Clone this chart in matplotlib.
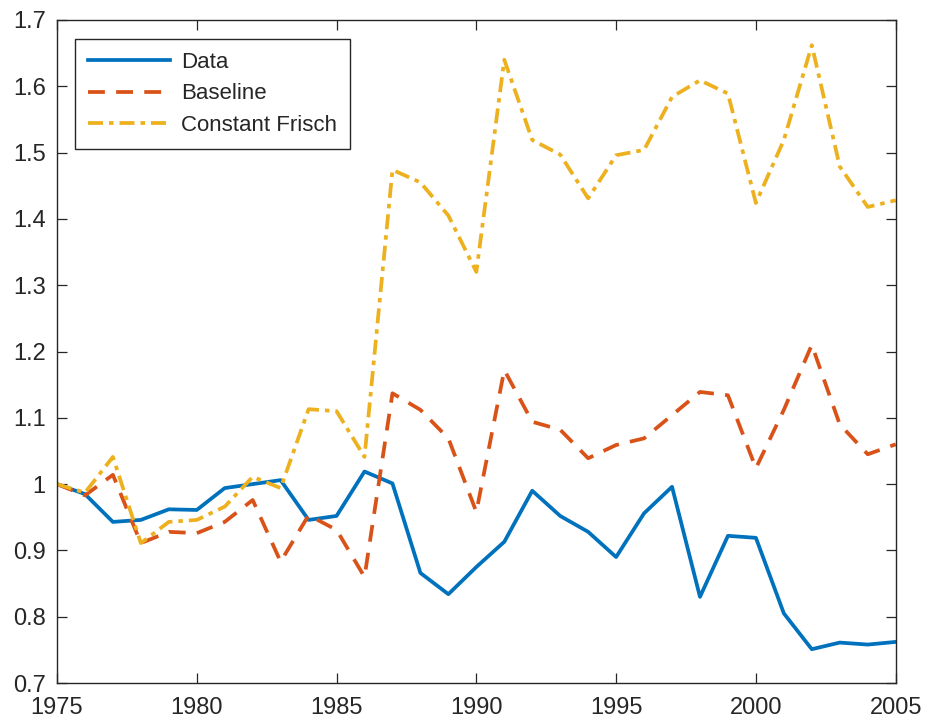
#!/usr/bin/env python3
"""Data vs. model: Baseline and Constant Frisch (MATLAB-style line chart)"""

import numpy as np
import matplotlib

matplotlib.use("Agg")
import matplotlib.pyplot as plt

years = np.arange(1975, 2006)

data = [1.000, 0.985, 0.943, 0.946, 0.962, 0.961, 0.994, 1.000, 1.006, 0.946,
        0.952, 1.019, 1.001, 0.866, 0.834, 0.875, 0.913, 0.990, 0.952, 0.928,
        0.890, 0.956, 0.996, 0.830, 0.922, 0.919, 0.805, 0.751, 0.761, 0.758,
        0.762]

baseline = [1.000, 0.983, 1.014, 0.911, 0.928, 0.926, 0.943, 0.976, 0.883, 0.953,
            0.931, 0.860, 1.137, 1.112, 1.069, 0.958, 1.172, 1.094, 1.082, 1.039,
            1.059, 1.069, 1.104, 1.139, 1.134, 1.024, 1.112, 1.210, 1.090, 1.045,
            1.060]

frisch = [1.000, 0.987, 1.041, 0.911, 0.943, 0.946, 0.966, 1.011, 0.994, 1.113,
          1.110, 1.041, 1.474, 1.455, 1.405, 1.320, 1.640, 1.519, 1.497, 1.431,
          1.496, 1.504, 1.584, 1.609, 1.589, 1.424, 1.519, 1.662, 1.479, 1.418,
          1.428]

labels = ["Data", "Baseline", "Constant Frisch"]
colors = ["#0072BD", "#D95319", "#EDB120"]


def plot(ax: plt.Axes) -> None:
    """Draw the three series"""
    ax.plot(years, data, color=colors[0], linewidth=2.7, label=labels[0])
    ax.plot(years, baseline, color=colors[1], linewidth=2.7,
            dashes=(4.5, 3.0), label=labels[1])
    ax.plot(years, frisch, color=colors[2], linewidth=2.7,
            dashes=(4.0, 1.6, 1.2, 1.6), label=labels[2])

    ax.set_xlim(1975, 2005)
    ax.set_ylim(0.7, 1.7)
    ax.set_xticks(np.arange(1975, 2006, 5))
    ax.set_yticks(np.arange(0.7, 1.71, 0.1))
    ax.set_yticklabels(["0.7", "0.8", "0.9", "1", "1.1", "1.2", "1.3",
                        "1.4", "1.5", "1.6", "1.7"])

    # MATLAB-like box with inward ticks on all sides
    ax.tick_params(direction="in", length=7, width=0.9, top=True, right=True,
                   labelsize=17, colors="#262626")
    ax.tick_params(axis="x", pad=10)
    ax.tick_params(axis="y", pad=8)
    for spine in ax.spines.values():
        spine.set_color("#262626")
        spine.set_linewidth(1.0)

    leg = ax.legend(loc="upper left", bbox_to_anchor=(0.0215, 0.9713),
                    borderaxespad=0, fontsize=16, handlelength=3.7,
                    handletextpad=0.5, labelspacing=0.47, borderpad=0.58,
                    fancybox=False, framealpha=1)
    leg.get_frame().set_edgecolor("#262626")
    leg.get_frame().set_linewidth(1.0)
    for text in leg.get_texts():
        text.set_color("#262626")


def main() -> None:
    """Build the figure and save it"""
    plt.rcParams["font.family"] = ["Liberation Sans", "DejaVu Sans"]
    fig = plt.figure(figsize=(9.25, 7.24), dpi=100)
    ax = fig.add_axes([0.0616, 0.0566, 0.9067, 0.9158])
    plot(ax)
    fig.savefig("out.png", dpi=100, facecolor="white")


if __name__ == "__main__":
    main()
